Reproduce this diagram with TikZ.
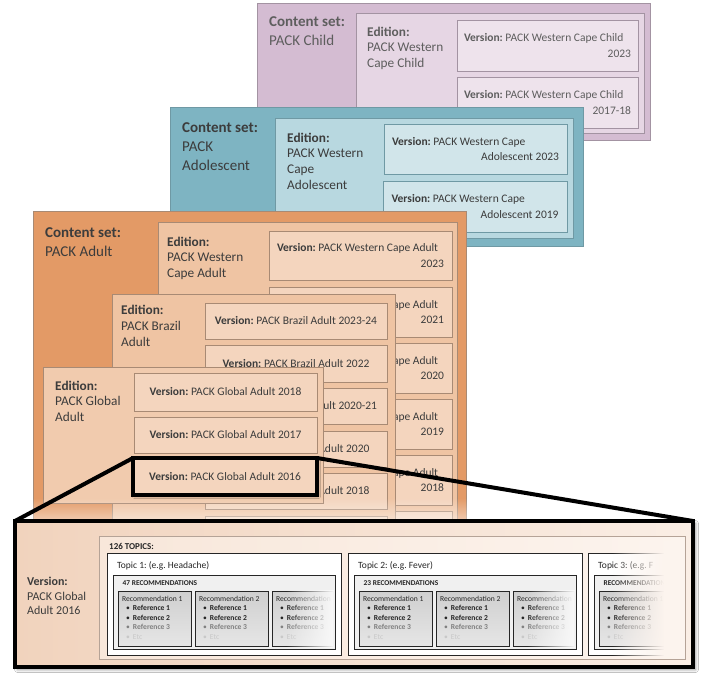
\documentclass[tikz,border=0pt]{standalone}
\usepackage{fontspec}
\setmainfont{Carlito}
\usetikzlibrary{fadings,shadows.blur}
\definecolor{txt}{HTML}{3C3C3C}
\definecolor{chtxt}{HTML}{5E5E5E}
\definecolor{chOut}{HTML}{D4BCD2}
\definecolor{chEd}{HTML}{E6D6E4}
\definecolor{chVer}{HTML}{EEE3EC}
\definecolor{chLine}{HTML}{A393A2}
\definecolor{teOut}{HTML}{7EB4C2}
\definecolor{teEd}{HTML}{B8D8E0}
\definecolor{teVer}{HTML}{D1E5EA}
\definecolor{teLine}{HTML}{6F99A4}
\definecolor{adOut}{HTML}{E39A66}
\definecolor{adEd}{HTML}{EFC4A3}
\definecolor{glEd}{HTML}{F1CBAE}
\definecolor{adVer}{HTML}{F4D5BE}
\definecolor{adLine}{HTML}{A88A74}
\definecolor{zmL}{HTML}{F1D3BD}
\definecolor{zmR}{HTML}{FAEEE5}
\definecolor{tpL}{HTML}{F8E7DA}
\definecolor{tpR}{HTML}{FCF4EE}
\definecolor{tpLine}{HTML}{B5A397}
\definecolor{grpF}{HTML}{F0F0F0}
\definecolor{recT}{HTML}{CFCFCF}
\definecolor{recB}{HTML}{E6E6E6}
\definecolor{ref3}{HTML}{808080}
\definecolor{refetc}{HTML}{C8C8C8}
\definecolor{dark}{HTML}{262626}
\tikzfading[name=fadeR, left color=transparent!100, right color=transparent!0]
\tikzfading[name=fadeD, top color=transparent!100, bottom color=transparent!0]
\tikzset{
  frame/.style={anchor=north west, inner sep=0pt, outer sep=0pt},
  chouter/.style={draw=chLine, fill=chOut, line width=0.7pt},
  chedit/.style={draw=chLine, fill=chEd, line width=0.6pt},
  chver/.style={draw=chLine, fill=chVer, line width=0.6pt},
  teouter/.style={draw=teLine, fill=teOut, line width=0.8pt},
  teedit/.style={draw=teLine, fill=teEd, line width=0.6pt},
  tever/.style={draw=teLine, fill=teVer, line width=0.6pt},
  adouter/.style={draw=adLine, fill=adOut, line width=0.7pt},
  adedit/.style={draw=adLine, fill=adEd, line width=0.6pt},
  gledit/.style={draw=adLine, fill=glEd, line width=0.6pt},
  adver/.style={draw=adLine, fill=adVer, line width=0.6pt},
  hiver/.style={draw=black, fill=adVer, line width=3.2pt,
    blur shadow={shadow xshift=1.5pt, shadow yshift=-1.5pt, shadow blur radius=2pt, shadow opacity=40}},
  settxt/.style={anchor=north west, inner sep=0pt, align=left, text=txt,
    font=\frenchspacing\fontsize{15}{19}\selectfont},
  edtxt/.style={anchor=north west, inner sep=0pt, align=left, text=txt,
    font=\frenchspacing\fontsize{13.3}{15.8}\selectfont},
  vtxt/.style={inner sep=0pt, align=flush left, text=txt, font=\frenchspacing\fontsize{11.5}{15.5}\selectfont},
  zoombox/.style={draw=black, line width=4.5pt, left color=zmL, right color=zmR,
    blur shadow={shadow xshift=2.5pt, shadow yshift=-2.5pt, shadow blur radius=3pt, shadow opacity=45}},
  zoomline/.style={draw=black, line width=4pt},
  topicsbox/.style={draw=tpLine, line width=0.6pt, left color=tpL, right color=tpR},
  topicbox/.style={draw=dark, fill=white, line width=0.7pt},
  grpbox/.style={draw=dark, fill=grpF, line width=0.7pt},
  recbox/.style={draw=dark, top color=recT, bottom color=recB, line width=0.7pt},
  bvtxt/.style={anchor=north west, inner sep=0pt, align=left, text=txt,
    font=\frenchspacing\fontsize{12}{14.5}\selectfont},
  tptxt/.style={anchor=west, inner sep=0pt, text=dark, font=\bfseries\fontsize{9}{10}\selectfont},
  toptxt/.style={anchor=west, inner sep=0pt, text=dark, font=\frenchspacing\fontsize{9.5}{11}\selectfont},
  grptxt/.style={anchor=west, inner sep=0pt, text=dark, font=\bfseries\fontsize{7.4}{9}\selectfont},
  rectxt/.style={anchor=north west, inner sep=0pt, align=left, text=dark,
    font=\fontsize{7.6}{9.4}\selectfont},
}
\newcommand\bx[6]{\node[frame,#2,minimum width={((#5)-(#3))*1pt},minimum height={((#6)-(#4))*1pt}] (#1) at (#3,#4) {};}
\newcommand\rfill{\hspace*{0pt plus 1filll}}
\newcommand\refline[1]{\hspace*{4pt}\textbullet\hspace{3pt}\textbf{Reference #1}}
\newcommand\reclines[1]{Recommendation #1\\\refline{1}\\\refline{2}\\\textcolor{ref3}{\refline{3}}\\\textcolor{refetc}{\hspace*{4pt}\textbullet\hspace{3pt}Etc}}
\newcommand\topichead[4]{%
  \bx{#1box}{topicbox}{107+#2}{553}{341+#2}{655}
  \node[toptxt] (#1t) at (117+#2,565.5) {#3};
  \bx{#1grp}{grpbox}{113+#2}{575}{335+#2}{649}
  \node[grptxt] (#1g) at (122.5+#2,583) {#4};
  \bx{#1ra}{recbox}{118+#2}{591}{191+#2}{646}
  \node[rectxt] (#1xa) at (122+#2,596) {\reclines{1}};
}
\newcommand\topiccol[4]{%
  \topichead{#1}{#2}{#3}{#4}
  \bx{#1rb}{recbox}{195+#2}{591}{268+#2}{646}
  \bx{#1rc}{recbox}{272+#2}{591}{333+#2}{646}
  \node[rectxt] (#1xb) at (199+#2,596) {\reclines{2}};
  \begin{scope}
    \clip (272+#2,591) rectangle (333+#2,646);
    \node[rectxt] (#1xc) at (276+#2,596) {\reclines{3}};
  \end{scope}
  \fill[grpF!40!white, path fading=fadeR] (286+#2,589.6) rectangle (334.3+#2,648.3);
}
\begin{document}
\begin{tikzpicture}[x=1pt,y=-1pt]
\useasboundingbox[fill=white] (0,0) rectangle (712,680);
% ---------- Child ----------
\bx{chset}{chouter}{257}{3}{650}{140}
\bx{ched}{chedit}{356}{13}{644}{133}
\bx{chv1}{chver}{457}{20}{638}{71}
\bx{chv2}{chver}{457}{77}{638}{128}
\node[settxt, text=chtxt] (chsetl) at (269,16) {\textbf{Content set:}\\PACK Child};
\node[edtxt, text=chtxt] (chedl) at (367,26.5) {\textbf{Edition:}\\PACK Western\\Cape Child};
\node[vtxt, text=chtxt, text width=167pt] (chv1l) at (chv1.center) {\textbf{Version:} PACK Western Cape Child\\\rfill 2023};
\node[vtxt, text=chtxt, text width=167pt] (chv2l) at (chv2.center) {\textbf{Version:} PACK Western Cape Child\\\rfill 2017-18};
% ---------- Adolescent ----------
\bx{teset}{teouter}{170}{107}{583}{246}
\bx{teed}{teedit}{275}{118}{573}{238}
\bx{tev1}{tever}{384}{124}{567}{174}
\bx{tev2}{tever}{383}{181}{567}{232}
\node[settxt] (tesetl) at (182,122) {\textbf{Content set:}\\PACK\\Adolescent};
\node[edtxt] (teedl) at (287,132.5) {\textbf{Edition:}\\PACK Western\\Cape\\Adolescent};
\node[vtxt, text width=167pt] (tev1l) at (tev1.center) {\textbf{Version:} PACK Western Cape\\\rfill Adolescent 2023};
\node[vtxt, text width=167pt] (tev2l) at (tev2.center) {\textbf{Version:} PACK Western Cape\\\rfill Adolescent 2019};
% ---------- Adult ----------
\bx{adset}{adouter}{33}{211}{466}{525}
\node[settxt] (adsetl) at (45,227) {\textbf{Content set:}\\PACK Adult};
\bx{wced}{adedit}{158}{222}{457}{525}
\node[edtxt] (wcedl) at (167,236.5) {\textbf{Edition:}\\PACK Western\\Cape Adult};
\bx{wcv1}{adver}{269}{231}{452}{280}
\bx{wcv2}{adver}{269}{287}{452}{337}
\bx{wcv3}{adver}{269}{343}{452}{393}
\bx{wcv4}{adver}{269}{399}{452}{449}
\bx{wcv5}{adver}{269}{455}{452}{505}
\bx{wcv6}{adver}{269}{511}{452}{560}
\node[vtxt, text width=167pt] (wcv1l) at (wcv1.center) {\textbf{Version:} PACK Western Cape Adult\\\rfill 2023};
\node[vtxt, text width=167pt] (wcv2l) at (wcv2.center) {\textbf{Version:} PACK Western Cape Adult\\\rfill 2021};
\node[vtxt, text width=167pt] (wcv3l) at (wcv3.center) {\textbf{Version:} PACK Western Cape Adult\\\rfill 2020};
\node[vtxt, text width=167pt] (wcv4l) at (wcv4.center) {\textbf{Version:} PACK Western Cape Adult\\\rfill 2019};
\node[vtxt, text width=167pt] (wcv5l) at (wcv5.center) {\textbf{Version:} PACK Western Cape Adult\\\rfill 2018};
% Brazil
\bx{bred}{adedit}{112}{294}{395}{525}
\node[edtxt] (bredl) at (121,305) {\textbf{Edition:}\\PACK Brazil\\Adult};
\bx{brv1}{adver}{205}{303}{387}{339}
\bx{brv2}{adver}{205}{345}{387}{382}
\bx{brv3}{adver}{205}{388}{387}{424}
\bx{brv4}{adver}{205}{431}{387}{467}
\bx{brv5}{adver}{205}{473}{387}{509}
\bx{brv6}{adver}{205}{516}{387}{552}
\node[vtxt] (brv1l) at (brv1.center) {\textbf{Version:} PACK Brazil Adult 2023-24};
\node[vtxt] (brv2l) at (brv2.center) {\textbf{Version:} PACK Brazil Adult 2022};
\node[vtxt] (brv3l) at (brv3.center) {\textbf{Version:} PACK Brazil Adult 2020-21};
\node[vtxt] (brv4l) at (brv4.center) {\textbf{Version:} PACK Brazil Adult 2020};
\node[vtxt] (brv5l) at (brv5.center) {\textbf{Version:} PACK Brazil Adult 2018};
% Global
\bx{gled}{gledit}{43}{367}{323}{503}
\node[edtxt] (gledl) at (55,380.5) {\textbf{Edition:}\\PACK Global\\Adult};
\bx{glv1}{adver}{134}{373}{317}{411}
\bx{glv2}{adver}{134}{417}{317}{453}
\node[vtxt] (glv1l) at (glv1.center) {\textbf{Version:} PACK Global Adult 2018};
\node[vtxt] (glv2l) at (glv2.center) {\textbf{Version:} PACK Global Adult 2017};
\fill[white, path fading=fadeD, fill opacity=0.5] (33,498) rectangle (467,521);
\bx{v16}{hiver}{133}{458}{317}{495}
\node[vtxt] (v16l) at (v16.center) {\textbf{Version:} PACK Global Adult 2016};
% ---------- zoom ----------
\bx{zoom}{zoombox}{15}{521}{693}{667}
\draw[zoomline] (v16.north west) -- (zoom.north west);
\draw[zoomline] (v16.north east) -- (zoom.north east);
\node[bvtxt] (zooml) at (27,577) {\textbf{Version:}\\PACK Global\\Adult 2016};
\bx{topics}{topicsbox}{99}{536}{685}{659}
\node[tptxt] (topicsl) at (109,546) {126 TOPICS:};
\topiccol{ta}{0}{Topic 1: (e.g. Headache)}{47 RECOMMENDATIONS}
\topiccol{tb}{241}{Topic 2: (e.g. Fever)}{23 RECOMMENDATIONS}
\begin{scope}
  \clip (585,540) rectangle (680,658);
  \topichead{tc}{481}{Topic 3: (e.g. F}{RECOMMENDATIONS}
\end{scope}
\fill[tpR, path fading=fadeR] (612,541) rectangle (664,657);
\fill[tpR] (663.5,541) rectangle (684.6,657);
\end{tikzpicture}
\end{document}
